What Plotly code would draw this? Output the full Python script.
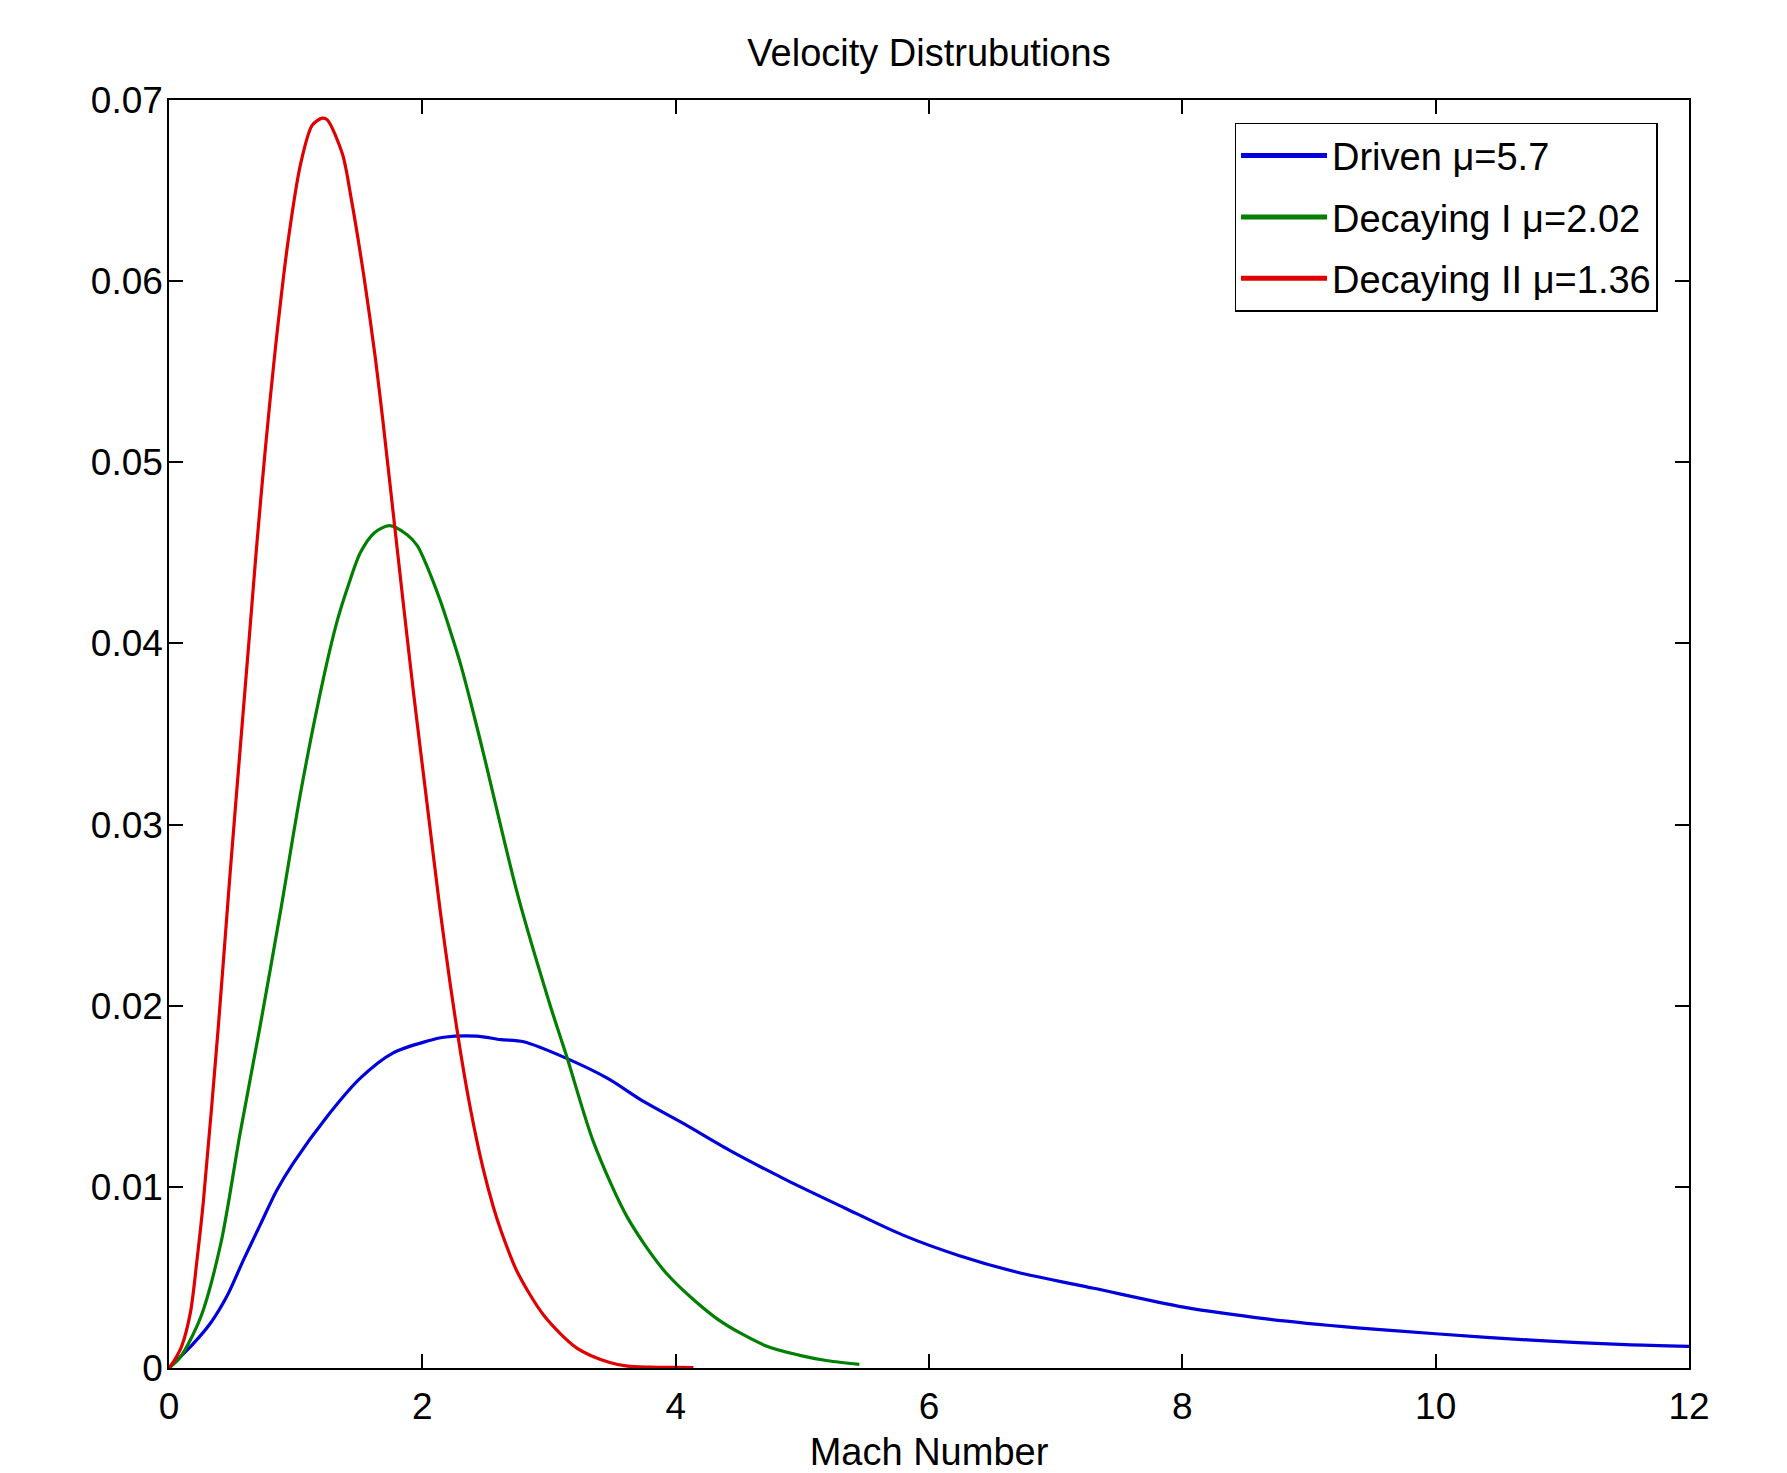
import plotly.graph_objects as go

# Driven (mu = 5.7)
driven_x = [0, 0.19, 0.33, 0.46, 0.59, 0.72, 0.85, 0.98, 1.25, 1.51, 1.77, 2.04, 2.17, 2.43,
            2.62, 2.80, 3.13, 3.46, 3.75, 4.06, 4.43, 4.88, 5.33, 5.79, 6.24, 6.69, 7.30,
            8.01, 8.68, 9.38, 10.0, 10.79, 11.5, 12.0]
driven_y = [0, 0.00133, 0.00250, 0.00400, 0.00600, 0.00790, 0.00980, 0.01130, 0.01390,
            0.01600, 0.01740, 0.01805, 0.01826, 0.01832, 0.01813, 0.01801, 0.01712, 0.01600,
            0.01470, 0.01350, 0.01200, 0.01036, 0.00885, 0.00735, 0.00620, 0.00530, 0.00440,
            0.00336, 0.00270, 0.00222, 0.00189, 0.00152, 0.00129, 0.00119]

# Decaying I (mu = 2.02)
decay1_x = [0, 0.09, 0.25, 0.41, 0.56, 0.72, 0.88, 1.04, 1.22, 1.33, 1.42, 1.51, 1.62,
            1.74, 1.88, 1.96, 2.01, 2.14, 2.22, 2.30, 2.38, 2.48, 2.75, 3.01, 3.14, 3.35,
            3.62, 3.93, 4.33, 4.72, 4.98, 5.20, 5.45]
decay1_y = [0, 0.0006, 0.0028, 0.0069, 0.0129, 0.0189, 0.0252, 0.0318, 0.0381,
            0.0413, 0.0433, 0.0450, 0.0461, 0.0465, 0.0460, 0.0454, 0.0447, 0.0424, 0.0407,
            0.0389, 0.0368, 0.0340, 0.0262, 0.0200, 0.0172, 0.0125, 0.0083, 0.0052, 0.0027,
            0.0012, 0.0007, 0.0004, 0.0002]

# Decaying II (mu = 1.36)
decay2_x = [0, 0.04, 0.10, 0.17, 0.22, 0.27, 0.39, 0.48, 0.59, 0.63, 0.69, 0.76, 0.84, 0.94,
            1.04, 1.13, 1.21, 1.25, 1.37, 1.44, 1.54, 1.63, 1.69, 1.77, 1.85, 1.93, 2.04,
            2.14, 2.22, 2.30, 2.38, 2.48, 2.56, 2.62, 2.75, 2.96, 3.22, 3.48, 3.62, 3.80,
            4.00, 4.14]
decay2_y = [0, 0.0004, 0.0012, 0.0031, 0.0059, 0.0091, 0.0189, 0.0271, 0.0366, 0.0400,
            0.0452, 0.0507, 0.0563, 0.0622, 0.0665, 0.0686, 0.0690, 0.0689, 0.0670, 0.0645,
            0.0602, 0.0557, 0.0522, 0.0472, 0.0422, 0.0373, 0.0310, 0.0253, 0.0212, 0.0175,
            0.0143, 0.0110, 0.0089, 0.0076, 0.0053, 0.0029, 0.0011, 0.0003, 0.0001, 0.00005,
            0.00003, 0.00002]

series_names = ["Driven μ=5.7", "Decaying I μ=2.02", "Decaying II μ=1.36"]
series_colors = ["#0000dd", "#007f00", "#e00000"]

x_ticks = [0, 2, 4, 6, 8, 10, 12]
y_ticks = [0, 0.01, 0.02, 0.03, 0.04, 0.05, 0.06, 0.07]
y_tick_labels = ["0", "0.01", "0.02", "0.03", "0.04", "0.05", "0.06", "0.07"]

FONT = "Liberation Sans, Arial, sans-serif"
FS = 38
TFS = 37

W, H = 1771, 1465

fig = go.Figure()
for i, (xs, ys, name, col) in enumerate(zip([driven_x, decay1_x, decay2_x],
                                            [driven_y, decay1_y, decay2_y],
                                            series_names, series_colors)):
    fig.add_trace(go.Scatter(x=xs, y=ys, mode="lines", name=name, legendgroup=f"g{i}",
                             line=dict(color=col, width=3.2, shape="spline", smoothing=0.8)))

axis_common = dict(showline=True, linecolor="black", linewidth=1.5, mirror="ticks",
                   ticks="inside", ticklen=14, tickwidth=1.5, tickcolor="black",
                   showgrid=False, zeroline=False, automargin=False,
                   tickfont=dict(family=FONT, size=TFS, color="black"))

fig.update_layout(
    width=W, height=H,
    margin=dict(l=161, r=90, t=92, b=105),
    paper_bgcolor="white", plot_bgcolor="white",
    font=dict(family=FONT, size=FS, color="black"),
    title=dict(text="Velocity Distrubutions", x=0.5, xref="paper", xanchor="center",
               y=1 - 45 / H, yanchor="middle",
               font=dict(family=FONT, size=FS, color="black")),
    xaxis=dict(range=[0, 12], tickvals=x_ticks, ticktext=[str(v) for v in x_ticks],
               ticklabelstandoff=5,
               title=dict(text="Mach Number", font=dict(family=FONT, size=FS), standoff=14),
               **axis_common),
    yaxis=dict(range=[0, 0.07], tickvals=y_ticks, ticktext=y_tick_labels,
               ticklabelstandoff=-3, **axis_common),
    legend=dict(x=0.701, y=0.982, xanchor="left", yanchor="top",
                bordercolor="black", borderwidth=1.5, bgcolor="white",
                font=dict(family=FONT, size=FS, color="black"),
                itemwidth=86, tracegroupgap=9, itemsizing="constant"),
    showlegend=True,
)

fig.write_html("out.html")
